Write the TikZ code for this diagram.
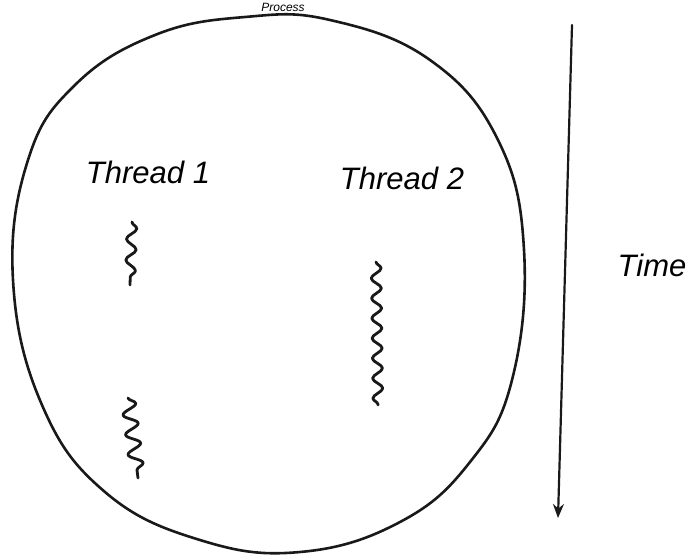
\documentclass[tikz,border=0pt]{standalone}
\usepackage{fontspec}
\setmainfont{Liberation Sans}
\usetikzlibrary{decorations.pathmorphing,arrows.meta}
\begin{document}
\begin{tikzpicture}[x=1pt,y=-1pt,
  ink/.style={draw=black!90,line cap=round,line join=round},
  label/.style={font=\fontsize{31}{34}\selectfont\itshape,inner sep=0pt},
  squig/.style={ink,line width=2.8pt,decorate,decoration={snake,segment length=#1,amplitude=5pt}}]
\useasboundingbox (0,0) rectangle (700,557);
% process boundary
\draw[ink,line width=2.6pt] plot[smooth cycle,tension=0.7] coordinates {
 (245,17) (330,20) (430,60) (498,140) (524,250) (512,380) (470,462)
 (400,522) (300,552) (200,540) (105,492) (42,405) (13,280) (28,160)
 (75,85) (155,35)};
\node[font=\fontsize{12}{14}\selectfont\itshape,inner sep=0pt,anchor=base] (proc) at (283,11) {Process};
\node[label] (t1) at (148,172) {Thread 1};
\node[label] (t2) at (402,178) {Thread 2};
\node[label] (time) at (652,265) {Time};
% threads
\coordinate (a1) at (132,222);
\coordinate (a2) at (130,285);
\coordinate (b1) at (128,398);
\coordinate (b2) at (138,478);
\coordinate (c1) at (376,262);
\coordinate (c2) at (378,405);
\draw[squig=21pt] (a1) -- (a2);
\draw[squig=20pt,decoration={amplitude=7pt}] (b1) -- (b2);
\draw[squig=20pt] (c1) -- (c2);
% time arrow
\coordinate (ts) at (572,25);
\coordinate (te) at (558,518);
\draw[ink,line width=2.2pt,-{Stealth[length=14pt,width=11pt]}] (ts) -- (te);
\end{tikzpicture}
\end{document}
